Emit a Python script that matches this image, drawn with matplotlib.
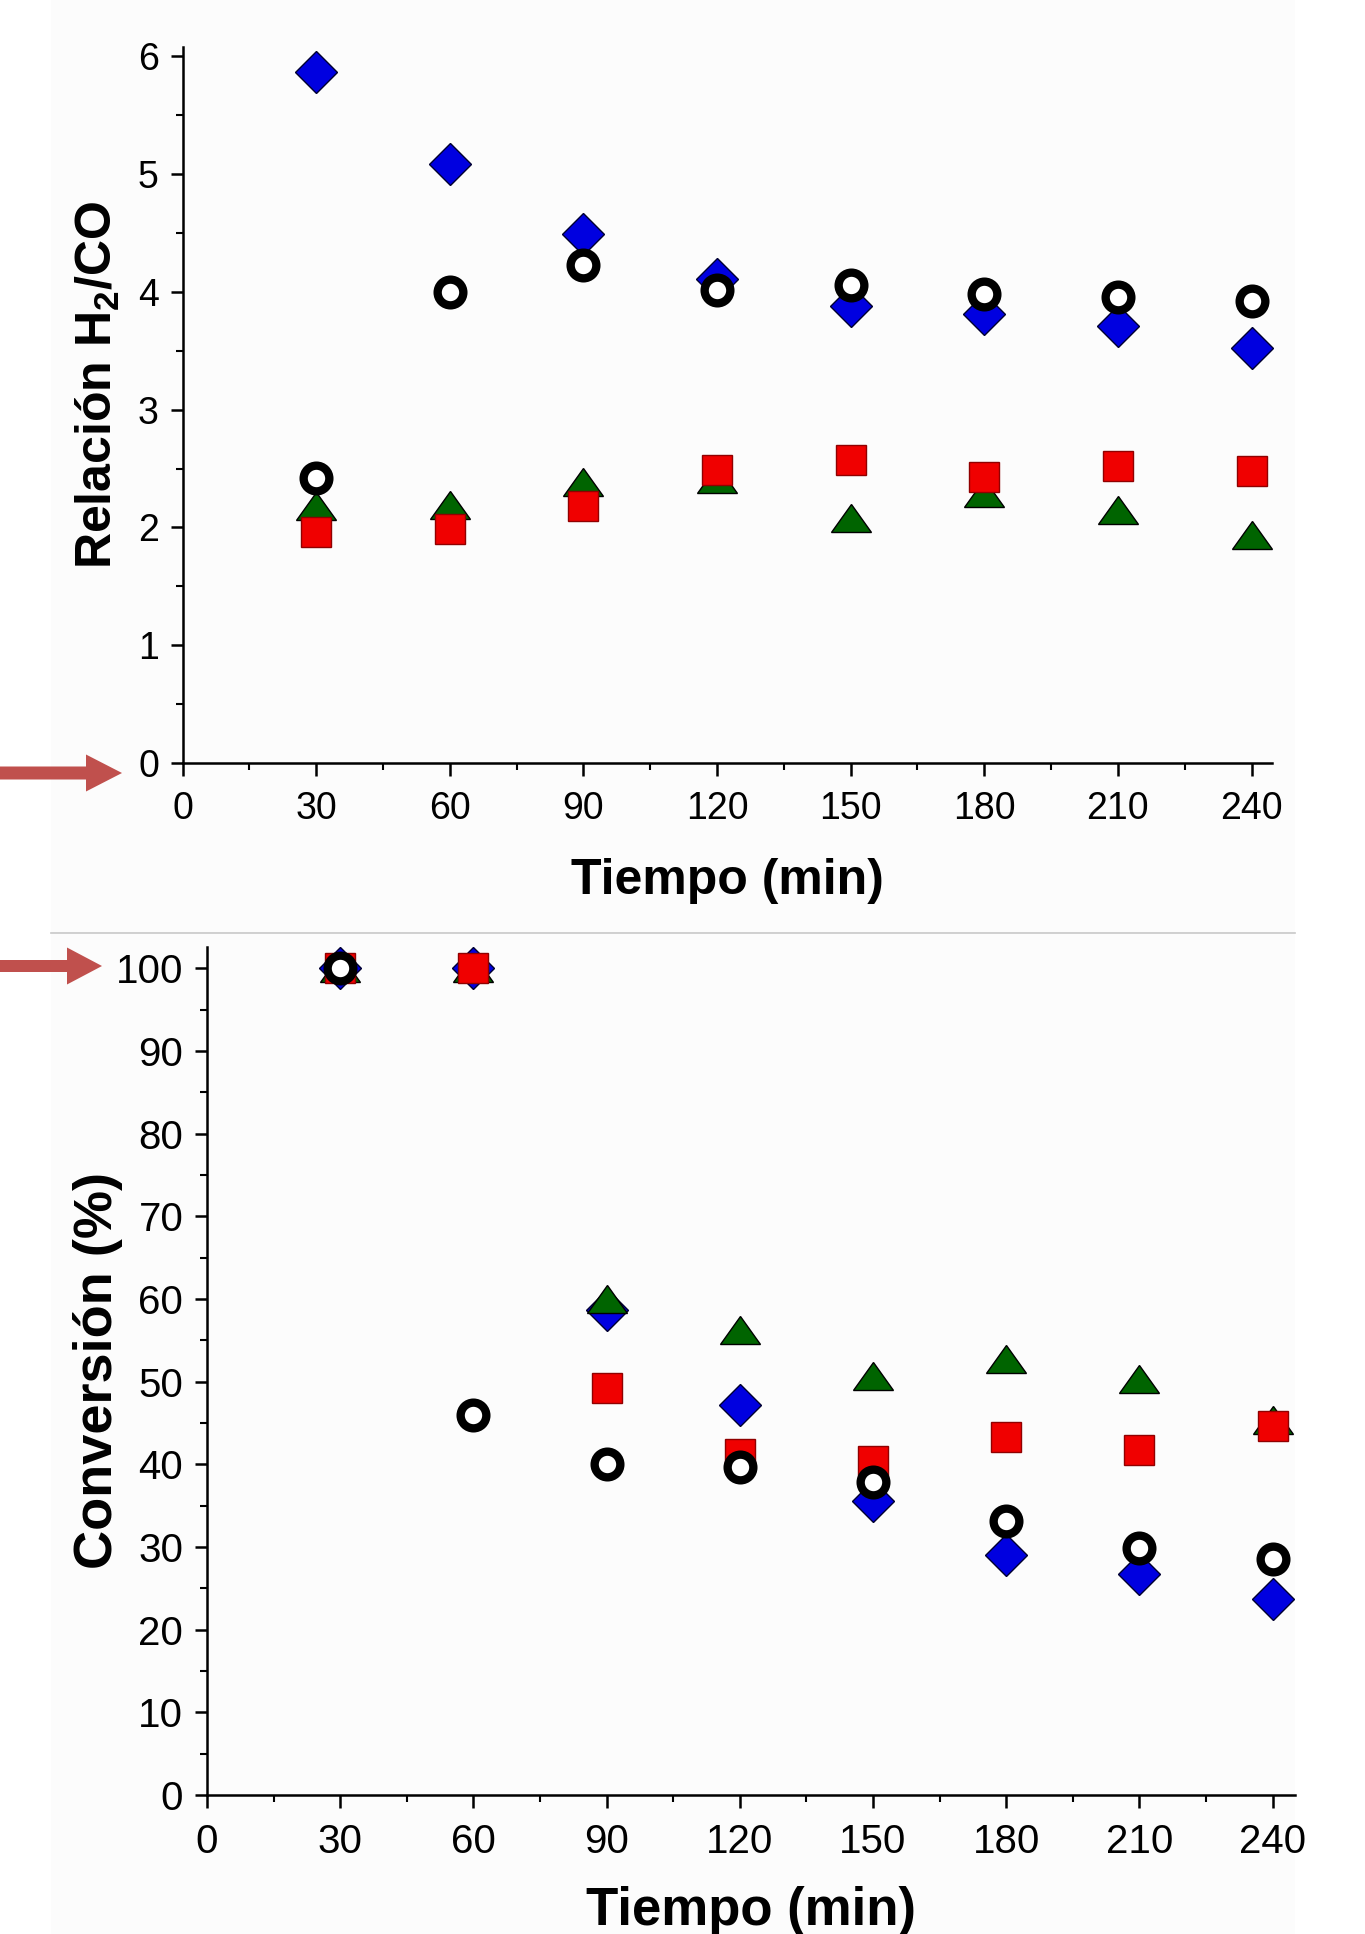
import matplotlib
matplotlib.use("Agg")
import matplotlib.pyplot as plt
from matplotlib.patches import FancyArrow, Rectangle
from matplotlib.lines import Line2D
from matplotlib.markers import MarkerStyle
from matplotlib.transforms import Affine2D
from matplotlib.ticker import MultipleLocator

plt.rcParams["font.family"] = ["Liberation Sans", "DejaVu Sans"]
plt.rcParams["mathtext.fontset"] = "custom"
plt.rcParams["mathtext.rm"] = "Liberation Sans"
plt.rcParams["mathtext.bf"] = "Liberation Sans:bold"

tiempo = [30, 60, 90, 120, 150, 180, 210, 240]

# H2/CO ratio (top panel)
ratio_diamond = [5.87, 5.09, 4.49, 4.11, 3.88, 3.81, 3.71, 3.52]
ratio_triangle = [2.18, 2.19, 2.39, 2.41, 2.08, 2.29, 2.15, 1.94]
ratio_square = [1.96, 1.99, 2.18, 2.49, 2.57, 2.43, 2.52, 2.48]
ratio_circle = [2.42, 4.00, 4.23, 4.02, 4.06, 3.98, 3.96, 3.92]

# conversion % (bottom panel)
conv_diamond = [100, 100, 58.7, 47.2, 35.6, 29.0, 26.8, 23.7]
conv_triangle = [100, 100, 60.0, 56.3, 50.7, 52.7, 50.3, 45.4]
conv_square = [100, 100, 49.3, 41.3, 40.4, 43.3, 41.8, 44.6]
conv_circle = [100, 46.0, 40.1, 39.7, 37.9, 33.1, 29.9, 28.6]

# flattened triangle like the Origin symbol
tri_marker = MarkerStyle("^", transform=Affine2D().scale(1.0, 0.68))


def draw_series(ax, diamond, triangle, square, circle):
    ax.plot(tiempo, diamond, ls="none", marker="D", ms=21, mfc="#0000e0",
            mec="#000030", mew=1.0, zorder=3, clip_on=False)
    ax.plot(tiempo, triangle, ls="none", marker=tri_marker, ms=29, mfc="#006400",
            mec="black", mew=1.0, zorder=4, clip_on=False)
    ax.plot(tiempo, square, ls="none", marker="s", ms=21.5, mfc="#f00000",
            mec="#900000", mew=1.0, zorder=5, clip_on=False)
    ax.plot(tiempo, circle, ls="none", marker="o", ms=18.5, mfc="white",
            mec="black", mew=6.0, zorder=6, clip_on=False)


def style_axes(ax, labelsize):
    for side in ["top", "right"]:
        ax.spines[side].set_visible(False)
    for side in ["left", "bottom"]:
        ax.spines[side].set_linewidth(1.8)
    ax.tick_params(which="major", direction="out", length=9, width=1.8,
                   labelsize=labelsize, pad=8)
    ax.tick_params(axis="x", which="major", pad=11)
    ax.tick_params(which="minor", direction="out", length=5, width=1.5)
    ax.set_facecolor("none")


fig = plt.figure(figsize=(13.65, 19.34), dpi=100)
px = fig.dpi_scale_trans

# faint panel backgrounds and separator
fig.add_artist(Rectangle((0.51, 10.01), 12.44, 9.33, transform=px,
                         facecolor="#fcfcfc", edgecolor="none", zorder=0))
fig.add_artist(Rectangle((0.51, 0.0), 12.44, 10.0, transform=px,
                         facecolor="#fcfcfc", edgecolor="none", zorder=0))
fig.add_artist(Line2D([0.51, 12.95], [10.01, 10.01], transform=px,
                      color="#c8c8c8", lw=1.2, zorder=1))

# top panel
ax1 = fig.add_axes([0.1337, 0.6055, 0.7985, 0.3702])
draw_series(ax1, ratio_diamond, ratio_triangle, ratio_square, ratio_circle)
style_axes(ax1, 27)
ax1.set_xlim(0, 244.7)
ax1.set_ylim(0, 6.08)
ax1.set_xticks([0] + tiempo)
ax1.set_yticks(range(0, 7))
ax1.xaxis.set_minor_locator(MultipleLocator(15))
ax1.yaxis.set_minor_locator(MultipleLocator(0.5))
ax1.set_xlabel("Tiempo (min)", fontsize=36, fontweight="bold", va="center")
ax1.xaxis.set_label_coords(0.5, -0.165)
ax1.set_ylabel(r"Relación H$_\mathbf{2}$/CO", fontsize=36, fontweight="bold",
               va="center")
ax1.yaxis.set_label_coords(-0.078, 0.528)

# bottom panel
ax2 = fig.add_axes([0.1516, 0.0718, 0.797, 0.4386])
draw_series(ax2, conv_diamond, conv_triangle, conv_square, conv_circle)
style_axes(ax2, 29)
ax2.set_xlim(0, 245)
ax2.set_ylim(0, 102.6)
ax2.set_xticks([0] + tiempo)
ax2.set_yticks(range(0, 101, 10))
ax2.xaxis.set_minor_locator(MultipleLocator(15))
ax2.yaxis.set_minor_locator(MultipleLocator(5))
ax2.set_xlabel("Tiempo (min)", fontsize=38, fontweight="bold", va="center")
ax2.xaxis.set_label_coords(0.5, -0.137)
ax2.set_ylabel("Conversión (%)", fontsize=39, fontweight="bold", va="center")
ax2.yaxis.set_label_coords(-0.100, 0.501)

# red arrows pointing at the axis labels
arrow_col = "#c0504d"
fig.add_artist(FancyArrow(0.0, 11.61, 1.22, 0.0, width=0.13, head_width=0.37,
                          head_length=0.36, length_includes_head=True,
                          transform=px, color=arrow_col, lw=0))
fig.add_artist(FancyArrow(0.0, 9.68, 1.02, 0.0, width=0.12, head_width=0.37,
                          head_length=0.35, length_includes_head=True,
                          transform=px, color=arrow_col, lw=0))

fig.savefig("out.png", dpi=100, facecolor="white")
